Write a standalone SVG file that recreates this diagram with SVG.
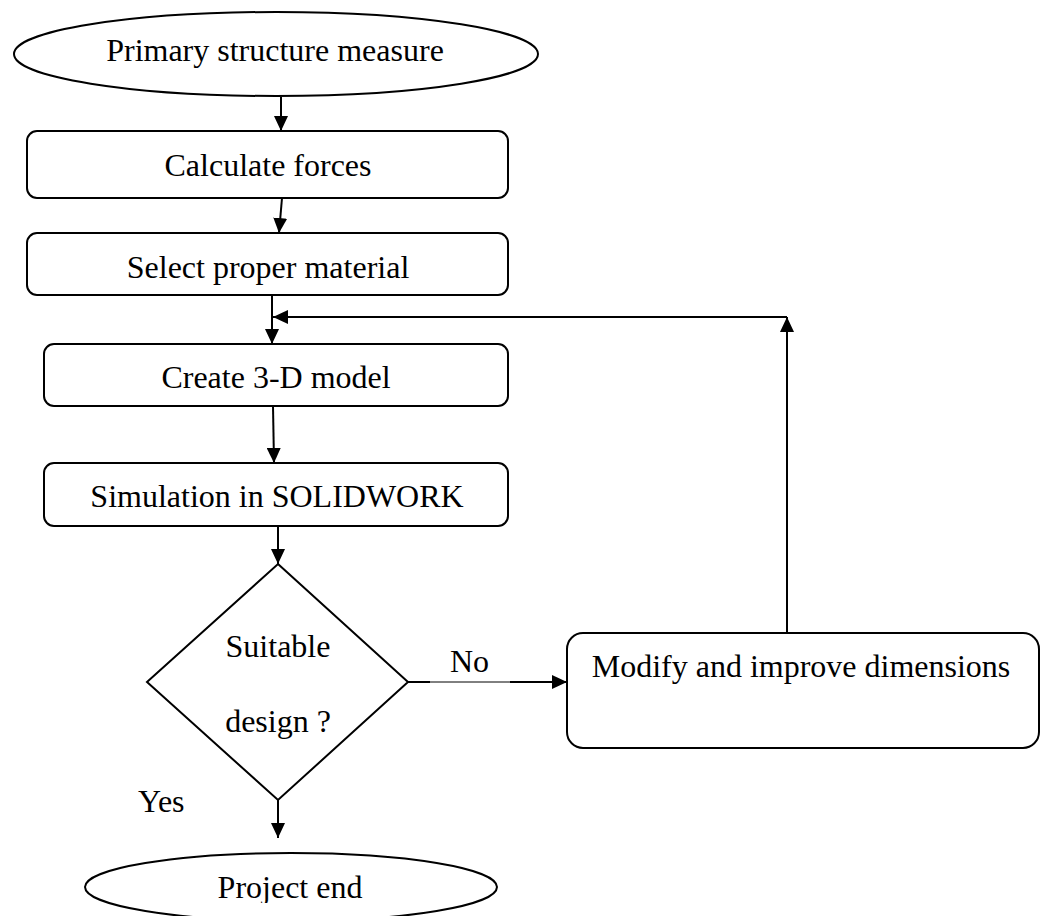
<svg xmlns="http://www.w3.org/2000/svg" width="1046" height="916" viewBox="0 0 1046 916">
<style>
.s{fill:#fff;stroke:#000;stroke-width:2}
.t{font-family:"Liberation Serif","Times New Roman",serif;font-size:32px;fill:#000}
.c{fill:none;stroke:#000;stroke-width:2}
.thin{fill:none;stroke:#000;stroke-width:1}
</style>
<defs>
<marker id="ah" viewBox="0 0 15 14" refX="15" refY="7" markerWidth="15" markerHeight="14" markerUnits="userSpaceOnUse" orient="auto">
<path d="M0,0 L15,7 L0,14 Z" fill="#000"/>
</marker>
<clipPath id="endclip"><rect x="0" y="840" width="1046" height="63"/></clipPath>
</defs>
<rect width="1046" height="916" fill="#fff"/>
<g id="connectors">
<line class="c" x1="281" y1="97" x2="281" y2="131" marker-end="url(#ah)"/>
<line class="c" x1="282" y1="198" x2="279" y2="233" marker-end="url(#ah)"/>
<line class="c" x1="272" y1="293" x2="272" y2="344" marker-end="url(#ah)"/>
<line class="c" x1="273" y1="406" x2="274" y2="463" marker-end="url(#ah)"/>
<line class="c" x1="278" y1="526" x2="278" y2="564" marker-end="url(#ah)"/>
<line class="c" x1="408" y1="682" x2="430" y2="682"/>
<line class="thin" x1="430" y1="682" x2="510" y2="682"/>
<line class="c" x1="510" y1="682" x2="567" y2="682" marker-end="url(#ah)"/>
<line class="c" x1="787" y1="633" x2="787" y2="317" marker-end="url(#ah)"/>
<line class="c" x1="787" y1="317" x2="273" y2="317" marker-end="url(#ah)"/>
<line class="c" x1="278" y1="800" x2="278" y2="838" marker-end="url(#ah)"/>
<text class="t" x="450" y="672">No</text>
<text class="t" x="138" y="812">Yes</text>
</g>
<g id="start">
<ellipse class="s" cx="276" cy="54" rx="262" ry="42"/>
<text class="t" x="275" y="61" text-anchor="middle">Primary structure measure</text>
</g>
<g id="calc">
<rect class="s" x="27" y="131" width="481" height="67" rx="10"/>
<text class="t" x="268" y="176" text-anchor="middle">Calculate forces</text>
</g>
<g id="select">
<rect class="s" x="27" y="233" width="481" height="62" rx="10"/>
<text class="t" x="268" y="278" text-anchor="middle">Select proper material</text>
</g>
<g id="model">
<rect class="s" x="44" y="344" width="464" height="62" rx="10"/>
<text class="t" x="276" y="388" text-anchor="middle">Create 3-D model</text>
</g>
<g id="sim">
<rect class="s" x="44" y="463" width="464" height="63" rx="10"/>
<text class="t" x="277" y="507" text-anchor="middle">Simulation in SOLIDWORK</text>
</g>
<g id="decision">
<polygon class="s" points="278,564 408,682 278,800 147,682"/>
<text class="t" x="278" y="657" text-anchor="middle">Suitable</text>
<text class="t" x="278" y="732" text-anchor="middle">design ?</text>
</g>
<g id="modify">
<rect class="s" x="567" y="633" width="472" height="115" rx="16"/>
<text class="t" x="801" y="677" text-anchor="middle">Modify and improve dimensions</text>
</g>
<g id="end">
<ellipse class="s" cx="291" cy="887" rx="206" ry="34"/>
<text class="t" x="290" y="898" text-anchor="middle" clip-path="url(#endclip)">Project end</text>
</g>
</svg>
